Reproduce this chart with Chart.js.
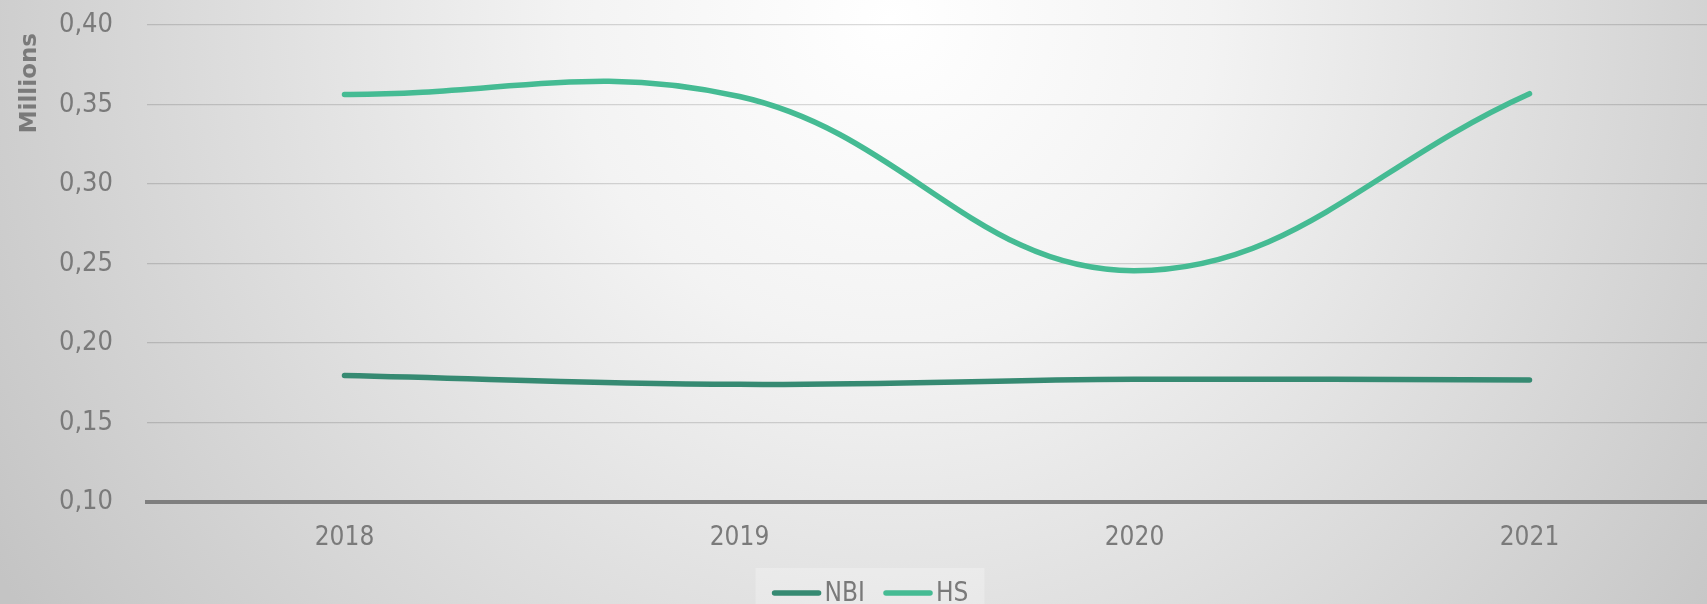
<!DOCTYPE html>
<html>
<head>
<meta charset="utf-8">
<script src="https://cdn.jsdelivr.net/npm/chart.js@4.4.1/dist/chart.umd.min.js"></script>
<style>
  html, body { margin: 0; padding: 0; overflow: hidden; width: 1707px; height: 604px; }
  body { background: radial-gradient(circle at 890px 20px, #ffffff 0px, #f3f3f3 320px, #c4c4c4 1050px); }
  #wrap { position: absolute; left: 0; top: 0; width: 1727px; height: 604px; }
</style>
</head>
<body>
<div id="wrap"><canvas id="c"></canvas></div>
<script>
const categories = ['2018', '2019', '2020', '2021'];
const nbiValues = [0.1795, 0.1740, 0.1772, 0.1767];
const hsValues = [0.3563, 0.3550, 0.2455, 0.3568];
const seriesNames = ['NBI', 'HS'];
const seriesColors = ['#368a72', '#45bb93'];
const yTickMin = 0.10, yTickMax = 0.40, yTickStep = 0.05;
const yAxisTitle = 'Millions';

const FONT = "'DejaVu Sans Condensed', 'DejaVu Sans', sans-serif";
const TXT = '#7a7a7a';

const legendPlugin = {
  id: 'customLegend',
  afterDraw(chart) {
    const ctx = chart.ctx;
    const items = chart.data.datasets.map(d => ({ text: d.label, color: d.borderColor }));
    ctx.save();
    ctx.font = "26px " + FONT;
    const sw = 50, gap = 3, itemGap = 18;
    let total = 0;
    items.forEach((it, i) => { total += sw + gap + ctx.measureText(it.text).width + (i ? itemGap : 0); });
    const cx = 870, cy = 593;
    ctx.fillStyle = 'rgba(255,255,255,0.25)';
    ctx.fillRect(cx - total / 2 - 16, 568, total + 32, 40);
    let x = cx - total / 2;
    items.forEach((it, i) => {
      if (i) x += itemGap;
      ctx.strokeStyle = it.color;
      ctx.lineWidth = 5.5;
      ctx.lineCap = 'round';
      ctx.beginPath();
      ctx.moveTo(x + 3, cy);
      ctx.lineTo(x + sw - 3, cy);
      ctx.stroke();
      x += sw + gap;
      ctx.fillStyle = TXT;
      ctx.textBaseline = 'middle';
      ctx.textAlign = 'left';
      ctx.fillText(it.text, x, cy + 1);
      x += ctx.measureText(it.text).width;
    });
    ctx.restore();
  }
};

new Chart(document.getElementById('c'), {
  type: 'line',
  data: {
    labels: categories,
    datasets: [
      { label: seriesNames[0], data: nbiValues, borderColor: seriesColors[0], backgroundColor: seriesColors[0],
        borderWidth: 5.5, pointRadius: 0, tension: 0.4, borderCapStyle: 'round', fill: false },
      { label: seriesNames[1], data: hsValues, borderColor: seriesColors[1], backgroundColor: seriesColors[1],
        borderWidth: 5.5, pointRadius: 0, tension: 0.4, borderCapStyle: 'round', fill: false }
    ]
  },
  options: {
    responsive: true,
    maintainAspectRatio: false,
    animation: false,
    layout: { padding: { top: 25, right: 0, bottom: 0, left: 0 } },
    plugins: {
      legend: { display: false },
      tooltip: { enabled: false },
      title: { display: false }
    },
    scales: {
      x: {
        offset: true,
        grid: { display: false, drawTicks: false, offset: true },
        border: { display: true, color: '#7f7f7f', width: 4 },
        ticks: { color: TXT, font: { family: FONT, size: 26 }, padding: 21, maxRotation: 0 },
        afterFit(scale) { scale.height = 102; }
      },
      y: {
        min: yTickMin, max: yTickMax,
        grid: { color: 'rgba(0,0,0,0.14)', lineWidth: 1.3, drawTicks: true, tickLength: 34, tickColor: 'rgba(0,0,0,0)' },
        border: { display: false },
        ticks: {
          stepSize: yTickStep, color: TXT, font: { family: FONT, size: 27 }, padding: 0,
          callback: v => v.toFixed(2).replace('.', ',')
        },
        title: {
          display: true, text: yAxisTitle + ' ', align: 'end', color: TXT,
          font: { family: "'DejaVu Sans', sans-serif", size: 23, weight: 'bold' },
          padding: { top: 16, bottom: 0 }
        },
        afterFit(scale) { scale.width = 147; }
      }
    }
  },
  plugins: [legendPlugin]
});
</script>
</body>
</html>
